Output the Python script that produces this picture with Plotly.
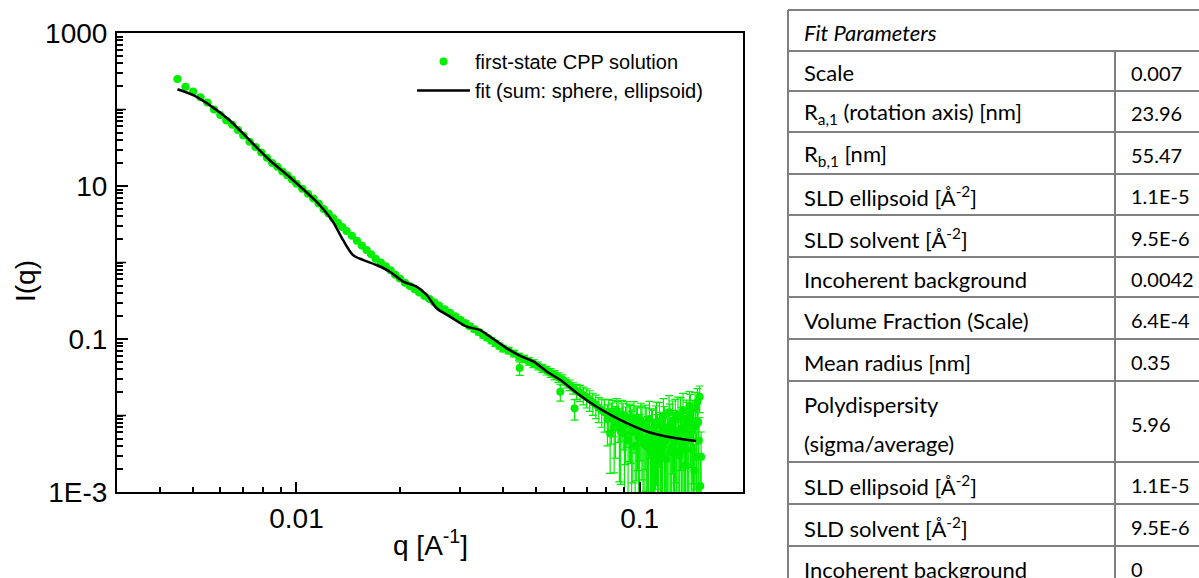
import plotly.graph_objects as go

# ---------------- data ----------------
# low / medium q part of the measured curve
q_low = [
    0.0045, 0.00475, 0.0050, 0.00525, 0.0055, 0.00575, 0.0060, 0.00625, 0.0065, 0.00675,
    0.0070, 0.0073, 0.0076, 0.0079, 0.0082, 0.0085, 0.0088, 0.0091, 0.0094, 0.0097,
    0.0100, 0.0104, 0.0108, 0.0112, 0.0116, 0.0120, 0.0124, 0.0128, 0.0132, 0.0136,
    0.0140, 0.0145, 0.0150, 0.0155, 0.0160, 0.0165, 0.0170, 0.0176, 0.0182, 0.0188,
    0.0194, 0.0200, 0.0207, 0.0214, 0.0221, 0.0228, 0.0236, 0.0244, 0.0252, 0.0260,
    0.0270, 0.0280, 0.0290, 0.0300, 0.0310, 0.0320, 0.0330, 0.0340, 0.0350, 0.0360,
    0.0370, 0.0380, 0.0390, 0.0400, 0.0415, 0.0430, 0.0445, 0.0447, 0.0460, 0.0475,
    0.0490, 0.0505, 0.0520, 0.0535, 0.0550, 0.0565, 0.0580, 0.0587, 0.0595, 0.0610,
    0.0625, 0.0640, 0.0646, 0.0655, 0.0670, 0.0685, 0.0700, 0.0715, 0.0730, 0.0745,
    0.0760, 0.0775, 0.0790,
]
I_low = [
    251, 199, 172, 145, 123, 100, 85, 72, 63, 54,
    45.7, 38, 32.4, 27.5, 23.4, 20.0, 17.8, 15.5, 13.8, 12.2,
    10.7, 9.2, 7.9, 6.84, 5.89, 5.0, 4.37, 3.80, 3.31, 2.91,
    2.58, 2.23, 1.92, 1.67, 1.46, 1.28, 1.12, 1.00, 0.89, 0.79,
    0.69, 0.62, 0.543, 0.493, 0.448, 0.406, 0.366, 0.333, 0.302, 0.274,
    0.245, 0.220, 0.198, 0.179, 0.162, 0.147, 0.134, 0.123, 0.112, 0.1035,
    0.0953, 0.0877, 0.0813, 0.0753, 0.0708, 0.0646, 0.0589, 0.0418, 0.055, 0.0513,
    0.0479, 0.0447, 0.0417, 0.0389, 0.0363, 0.0339, 0.0316, 0.0205, 0.0295, 0.0269,
    0.0251, 0.0229, 0.0124, 0.0209, 0.0200, 0.0186, 0.0174, 0.0162, 0.0148, 0.0138,
    0.0126, 0.0117, 0.0110,
]
err_rel_low = [
    0.02, 0.02, 0.02, 0.02, 0.02, 0.02, 0.02, 0.02, 0.02, 0.02,
    0.02, 0.02, 0.02, 0.02, 0.02, 0.02, 0.02, 0.02, 0.02, 0.02,
    0.02, 0.02, 0.02, 0.02, 0.02, 0.02, 0.02, 0.02, 0.02, 0.02,
    0.03, 0.03, 0.03, 0.03, 0.03, 0.03, 0.03, 0.03, 0.03, 0.03,
    0.03, 0.03, 0.04, 0.04, 0.04, 0.04, 0.04, 0.04, 0.04, 0.05,
    0.05, 0.05, 0.06, 0.06, 0.07, 0.07, 0.07, 0.08, 0.08, 0.08,
    0.09, 0.09, 0.09, 0.10, 0.10, 0.10, 0.10, 0.20, 0.11, 0.11,
    0.12, 0.12, 0.12, 0.13, 0.13, 0.14, 0.14, 0.25, 0.15, 0.15,
    0.16, 0.17, 0.30, 0.22, 0.24, 0.26, 0.28, 0.30, 0.32, 0.34,
    0.36, 0.40, 0.45,
]
# noisy high-q tail
q_high = [
    0.0805, 0.08125, 0.0820, 0.08275, 0.0835, 0.08425, 0.0850, 0.08575, 0.0865, 0.08725,
    0.0880, 0.08875, 0.0895, 0.09025, 0.0910, 0.09175, 0.0925, 0.09325, 0.0940, 0.09475,
    0.0955, 0.09625, 0.0970, 0.09775, 0.0985, 0.09925,
    0.1000, 0.10075, 0.1015, 0.10225, 0.1030, 0.10375, 0.1045, 0.10525, 0.1060, 0.10675,
    0.1075, 0.10825, 0.1090, 0.10975, 0.1105, 0.11125, 0.1120, 0.11275, 0.1135, 0.11425,
    0.1150, 0.11575, 0.1165, 0.11725, 0.1180, 0.11875, 0.1195, 0.12025, 0.1210, 0.12175,
    0.1225, 0.12325, 0.1240, 0.12475, 0.1255, 0.12625, 0.1270, 0.12775, 0.1285, 0.12925,
    0.1300, 0.13075, 0.1315, 0.13225, 0.1330, 0.13375, 0.1345, 0.13525, 0.1360, 0.13675,
    0.1375, 0.13825, 0.1390, 0.13975, 0.1405, 0.14125, 0.1420, 0.14275, 0.1435, 0.14425,
    0.1450, 0.14575, 0.1465, 0.14725, 0.1480, 0.14875, 0.1495, 0.1502, 0.1510,
]
I_high = [
    0.0089, 0.0112, 0.00585, 0.0094, 0.0105, 0.0071, 0.0079, 0.0115, 0.0098, 0.0068,
    0.0063, 0.0102, 0.0089, 0.0058, 0.0076, 0.0095, 0.0048, 0.0083, 0.0079, 0.0061,
    0.0066, 0.0092, 0.0040, 0.0070, 0.0076, 0.0053,
    0.0056, 0.0085, 0.0072, 0.0049, 0.0042, 0.0078, 0.0068, 0.0039, 0.0051, 0.0090,
    0.0035, 0.0066, 0.0062, 0.0043, 0.0046, 0.0072, 0.0081, 0.0050, 0.0031, 0.0084,
    0.0058, 0.0037, 0.0044, 0.0098, 0.0069, 0.0047, 0.0027, 0.0063, 0.0052, 0.0110,
    0.0074, 0.0033, 0.0038, 0.0086, 0.0060, 0.0045, 0.0088, 0.0057, 0.0034, 0.0102,
    0.0055, 0.0030, 0.0095, 0.0067, 0.0041, 0.0118, 0.0064, 0.0036, 0.0022, 0.0091,
    0.0078, 0.0053, 0.0048, 0.0132, 0.0105, 0.0061, 0.0036, 0.0085, 0.0068, 0.0019,
    0.0125, 0.0072, 0.0029, 0.0150, 0.0082, 0.0047, 0.0176, 0.0012, 0.0029,
]
err_rel_high = [
    0.55, 0.45, 0.70, 0.55, 0.50, 0.75, 0.65, 0.45, 0.55, 0.80,
    0.80, 0.55, 0.60, 0.85, 0.70, 0.60, 0.85, 0.70, 0.70, 0.85,
    0.80, 0.65, 0.90, 0.80, 0.75, 0.90,
    0.85, 0.70, 0.80, 0.95, 0.95, 0.75, 0.85, 1.00, 0.90, 0.70,
    1.00, 0.85, 0.90, 1.00, 0.95, 0.85, 0.85, 1.05, 0.85, 0.75,
    0.90, 1.00, 1.00, 0.70, 0.90, 1.10, 0.95, 0.85, 0.95, 0.65,
    0.90, 1.05, 1.00, 0.80, 0.95, 1.00, 0.85, 0.90, 1.05, 0.70,
    0.95, 1.05, 0.80, 0.90, 1.00, 0.65, 0.95, 1.05, 1.20, 0.75,
    0.90, 1.00, 1.00, 0.55, 0.80, 0.95, 1.05, 0.85, 0.95, 1.20,
    0.60, 0.85, 1.10, 0.50, 0.90, 1.00, 0.38, 1.20, 1.10,
]

q_fit = [0.00450, 0.00498, 0.00557, 0.00637, 0.00729, 0.00834, 0.00976, 0.01117,
         0.01168, 0.01277, 0.01366, 0.01462, 0.01563, 0.01710, 0.01871, 0.02047,
         0.02239, 0.02395, 0.02561, 0.02800, 0.03133, 0.03427, 0.03665, 0.04101,
         0.04486, 0.04909, 0.05370, 0.05874, 0.06573, 0.07352, 0.08225, 0.09204,
         0.1054, 0.1206, 0.146]
I_fit = [184, 155, 115, 73, 39.9, 21.9, 12.0, 6.9,
         5.65, 3.41, 1.97, 1.25, 1.08, 0.927, 0.758, 0.561,
         0.483, 0.376, 0.252, 0.196, 0.145, 0.131, 0.107, 0.0755,
         0.060, 0.0505, 0.0374, 0.0291, 0.0195, 0.0137, 0.0102, 0.0079,
         0.00614, 0.00528, 0.00464]

series_names = ["first-state CPP solution", "fit (sum: sphere, ellipsoid)"]
x_title = "q [A<sup>-1</sup>]"
y_title = "I(q)"

y_tickvals = [1e-3, 1e-1, 10, 1000]
y_ticktext = ["1E-3", "0.1", "10", "1000"]
y_unlabeled_decades = [1e-2, 1, 100]
x_tickvals = [0.01, 0.1]
x_ticktext = ["0.01", "0.1"]

table_title = "<i>Fit Parameters</i>"
param_labels = [
    "Scale",
    "R<sub>a,1</sub> (rotation axis) [nm]",
    "R<sub>b,1</sub> [nm]",
    "SLD ellipsoid [Å<sup>-2</sup>]",
    "SLD solvent [Å<sup>-2</sup>]",
    "Incoherent background",
    "Volume Fraction (Scale)",
    "Mean radius [nm]",
    ["Polydispersity", "(sigma/average)"],
    "SLD ellipsoid [Å<sup>-2</sup>]",
    "SLD solvent [Å<sup>-2</sup>]",
    "Incoherent background",
]
param_values = ["0.007", "23.96", "55.47", "1.1E-5", "9.5E-6", "0.0042",
                "6.4E-4", "0.35", "5.96", "1.1E-5", "9.5E-6", "0"]

q_data = q_low + q_high
I_data = I_low + I_high
I_err = [v * r for v, r in zip(I_data, err_rel_low + err_rel_high)]

# ---------------- layout geometry (pixels) ----------------
W_FIG, H_FIG = 1199, 578
L, R, T, B = 117, 743, 33, 492
PW, PH = R - L, B - T


def px(x):
    return (x - L) / PW


def py(y):
    return (B - y) / PH


GREEN = "#00ee00"
AXFONT = dict(family="Liberation Sans, Arial, sans-serif", size=28, color="black")

fig = go.Figure()
fig.add_trace(go.Scatter(
    x=q_data, y=I_data, mode="markers", name=series_names[0],
    marker=dict(color=GREEN, size=8, line=dict(width=0)),
    error_y=dict(type="data", array=I_err, visible=True, color=GREEN,
                 thickness=1.2, width=4),
))
fig.add_trace(go.Scatter(
    x=q_fit, y=I_fit, mode="lines", name=series_names[1],
    line=dict(color="black", width=2.5, shape="spline", smoothing=0.8),
))

minor_x = [m * 10 ** e for e in (-3, -2) for m in range(2, 10) if 0.0031 < m * 10 ** e < 0.19]
minor_y = [m * 10 ** e for e in range(-3, 3) for m in range(2, 10)]

fig.update_xaxes(
    type="log", range=[-2.523, -0.699],
    tickmode="array", tickvals=x_tickvals, ticktext=x_ticktext,
    ticks="inside", ticklen=10, tickwidth=1.5, tickcolor="black",
    minor=dict(tickmode="array", tickvals=minor_x, ticks="inside", ticklen=5,
               tickwidth=1.5, tickcolor="black", showgrid=False),
    showline=True, linecolor="black", linewidth=2, mirror=True,
    showgrid=False, zeroline=False, tickfont=AXFONT, ticklabelstandoff=0,
)
fig.update_yaxes(
    type="log", range=[-3, 3],
    tickmode="array", tickvals=y_tickvals, ticktext=y_ticktext,
    ticks="inside", ticklen=11, tickwidth=1.5, tickcolor="black",
    minor=dict(tickmode="array", tickvals=minor_y + y_unlabeled_decades, ticks="inside",
               ticklen=6, tickwidth=1.5, tickcolor="black", showgrid=False),
    showline=True, linecolor="black", linewidth=2, mirror=True,
    showgrid=False, zeroline=False, tickfont=AXFONT, ticklabelstandoff=2,
)

# longer ticks for the unlabeled decades (100, 1, 0.01)
shapes = []
for v in y_unlabeled_decades:
    shapes.append(dict(type="line", xref="x domain", yref="y", x0=0, x1=9 / PW, y0=v, y1=v,
                       line=dict(color="black", width=1.5)))

# ---------------- table drawn with shapes + annotations ----------------
TBL_LEFT, TBL_COL, TBL_RIGHT = 788, 1115, 1205
row_lines = [10, 51, 91, 132, 174, 215, 257, 297, 339, 381, 462, 504, 546, 588]
GRAY = "#808080"
for yl in row_lines:
    shapes.append(dict(type="line", xref="paper", yref="paper",
                       x0=px(TBL_LEFT), x1=px(TBL_RIGHT), y0=py(yl), y1=py(yl),
                       line=dict(color=GRAY, width=2)))
shapes.append(dict(type="line", xref="paper", yref="paper",
                   x0=px(TBL_LEFT), x1=px(TBL_LEFT), y0=py(row_lines[0]), y1=py(600),
                   line=dict(color=GRAY, width=2)))
shapes.append(dict(type="line", xref="paper", yref="paper",
                   x0=px(TBL_COL), x1=px(TBL_COL), y0=py(row_lines[1]), y1=py(600),
                   line=dict(color=GRAY, width=2)))

LFONT = dict(family="Lato, Carlito, Calibri, sans-serif", size=22, color="black")
VFONT = dict(family="Lato, Carlito, Calibri, sans-serif", size=20, color="black")
annotations = []


def cell_text(text, x, ycenter, font):
    annotations.append(dict(text=text, xref="paper", yref="paper", x=px(x), y=py(ycenter),
                            xanchor="left", yanchor="middle", showarrow=False, font=font))


cell_text(table_title, 802, (row_lines[0] + row_lines[1]) / 2 + 2, LFONT)
for i, (lab, val) in enumerate(zip(param_labels, param_values)):
    y0, y1 = row_lines[i + 1], row_lines[i + 2]
    yc = (y0 + y1) / 2 + 2
    if isinstance(lab, list):
        cell_text(lab[0], 802, yc - 19, LFONT)
        cell_text(lab[1], 802, yc + 20, LFONT)
    else:
        cell_text(lab, 802, yc, LFONT)
    cell_text(val, 1129, yc, VFONT)

# axis titles
annotations.append(dict(text=x_title, xref="paper", yref="paper", x=px(430), y=py(543),
                        xanchor="center", yanchor="middle", showarrow=False, font=AXFONT))
annotations.append(dict(text=y_title, xref="paper", yref="paper", x=px(25), y=py(281),
                        xanchor="center", yanchor="middle", showarrow=False, font=AXFONT,
                        textangle=-90))

fig.update_layout(
    width=W_FIG, height=H_FIG,
    margin=dict(l=L, r=W_FIG - R, t=T, b=H_FIG - B, pad=0),
    paper_bgcolor="white", plot_bgcolor="white",
    showlegend=True,
    legend=dict(x=px(412), y=py(42), xanchor="left", yanchor="top",
                bgcolor="rgba(0,0,0,0)", borderwidth=0, itemwidth=53,
                font=dict(family="Liberation Sans, Arial, sans-serif", size=20, color="black")),
    shapes=shapes, annotations=annotations,
)

fig.write_html("out.html")
